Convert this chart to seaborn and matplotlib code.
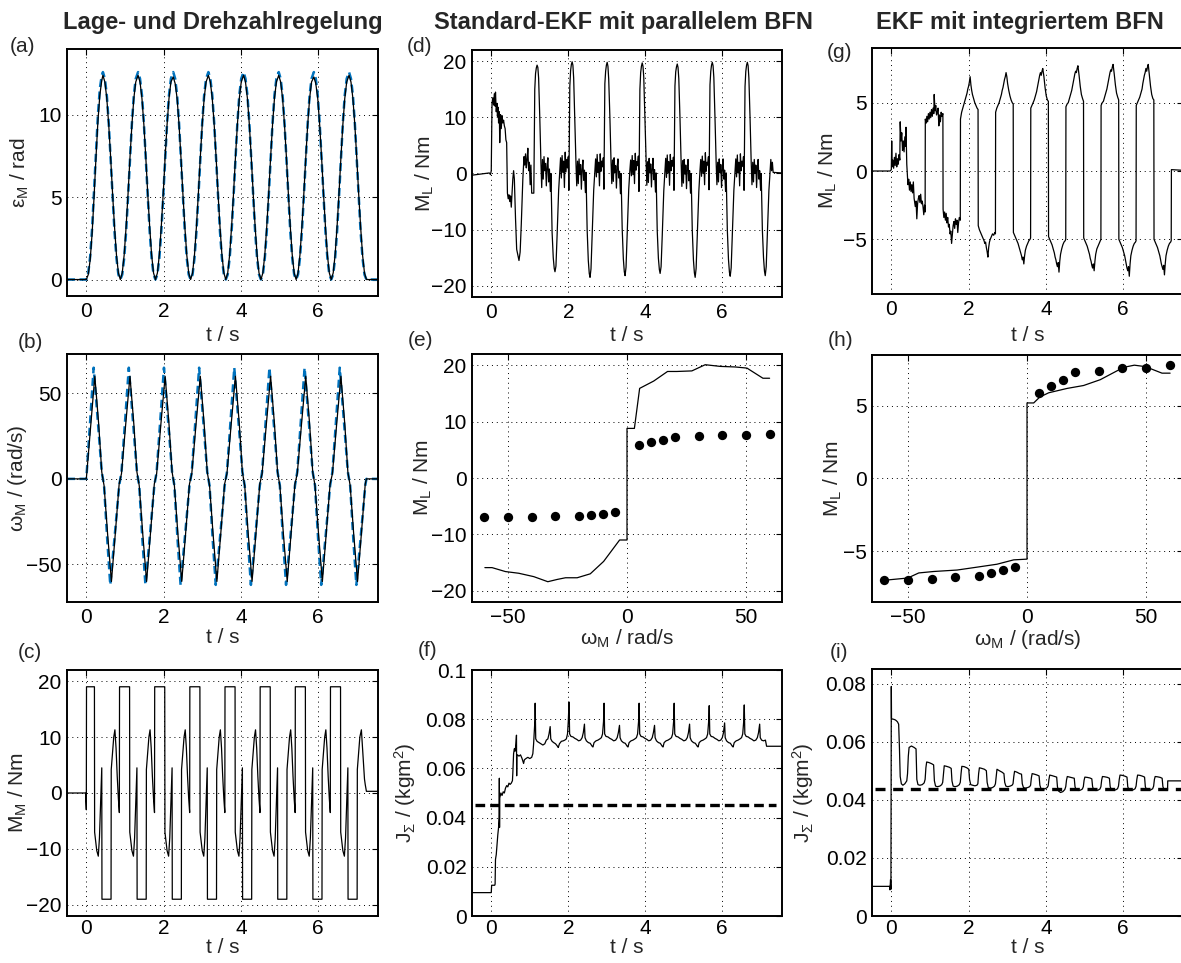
import matplotlib
matplotlib.use("Agg")
import matplotlib.pyplot as plt
import seaborn as sns

# ------------------------------------------------------------------
# data
# ------------------------------------------------------------------
col_titles = ["Lage- und Drehzahlregelung", "Standard-EKF mit parallelem BFN", "EKF mit integriertem BFN"]

# (a) position eps_M, measured (black) and reference (blue dashed)
eps_t = [-0.5, 0.0, 0.05, 0.10, 0.15, 0.20, 0.25, 0.30, 0.35, 0.40, 0.43,
         0.48, 0.53, 0.58, 0.63, 0.68, 0.73, 0.78, 0.83, 0.88, 0.93, 0.98, 1.03, 1.08, 1.13, 1.18, 1.23, 1.28, 1.34,
         1.39, 1.44, 1.49, 1.54, 1.59, 1.64, 1.69, 1.74, 1.79, 1.84, 1.89, 1.94, 1.99, 2.04, 2.09, 2.14, 2.19, 2.25,
         2.30, 2.35, 2.40, 2.45, 2.50, 2.55, 2.60, 2.65, 2.70, 2.75, 2.80, 2.85, 2.90, 2.95, 3.00, 3.05, 3.10, 3.16,
         3.21, 3.26, 3.31, 3.36, 3.41, 3.46, 3.51, 3.56, 3.61, 3.66, 3.71, 3.76, 3.81, 3.86, 3.91, 3.96, 4.01, 4.07,
         4.12, 4.17, 4.22, 4.27, 4.32, 4.37, 4.42, 4.47, 4.52, 4.57, 4.62, 4.67, 4.72, 4.77, 4.82, 4.87, 4.92, 4.98,
         5.03, 5.08, 5.13, 5.18, 5.23, 5.28, 5.33, 5.38, 5.43, 5.48, 5.53, 5.58, 5.63, 5.68, 5.73, 5.78, 5.83, 5.89,
         5.94, 5.99, 6.04, 6.09, 6.14, 6.19, 6.24, 6.29, 6.34, 6.39, 6.44, 6.49, 6.54, 6.59, 6.64, 6.69, 6.74, 6.80,
         6.85, 6.90, 6.95, 7.00, 7.05, 7.10, 7.15, 7.20, 7.25, 7.55]
eps_meas = [0.0, 0.0, 0.3, 1.2, 2.8, 5.0, 7.4, 9.6, 11.2, 12.1, 12.4,
            12.0, 11.0, 9.4, 7.4, 5.2, 3.2, 1.5, 0.4, 0.0, 0.4, 1.5, 3.2, 5.2, 7.4, 9.4, 11.0, 12.0, 12.4,
            12.0, 11.0, 9.4, 7.4, 5.2, 3.2, 1.5, 0.4, 0.0, 0.4, 1.5, 3.2, 5.2, 7.4, 9.4, 11.0, 12.0, 12.3,
            11.9, 11.0, 9.4, 7.4, 5.2, 3.2, 1.5, 0.4, 0.0, 0.4, 1.5, 3.2, 5.2, 7.4, 9.4, 11.0, 12.0, 12.4,
            12.0, 11.0, 9.4, 7.4, 5.2, 3.2, 1.5, 0.4, 0.0, 0.4, 1.5, 3.2, 5.2, 7.4, 9.4, 11.0, 12.0, 12.4,
            12.0, 11.0, 9.4, 7.4, 5.2, 3.2, 1.5, 0.4, 0.0, 0.4, 1.5, 3.2, 5.2, 7.4, 9.4, 11.0, 12.0, 12.4,
            12.0, 11.0, 9.4, 7.4, 5.2, 3.2, 1.5, 0.4, 0.0, 0.4, 1.5, 3.2, 5.2, 7.4, 9.4, 11.0, 12.0, 12.3,
            11.9, 11.0, 9.4, 7.4, 5.2, 3.2, 1.5, 0.4, 0.0, 0.4, 1.5, 3.2, 5.2, 7.4, 9.4, 11.0, 12.0, 12.4,
            12.0, 11.0, 9.4, 7.4, 5.2, 3.2, 1.5, 0.4, 0.0, 0.0]
eps_ref = [0.0, 0.0, 0.4, 1.4, 3.1, 5.4, 7.8, 10.0, 11.6, 12.4, 12.6,
           12.2, 11.2, 9.5, 7.3, 5.0, 2.9, 1.3, 0.3, 0.0, 0.3, 1.3, 2.9, 5.0, 7.3, 9.5, 11.2, 12.2, 12.6,
           12.2, 11.2, 9.5, 7.3, 5.0, 2.9, 1.3, 0.3, 0.0, 0.3, 1.3, 2.9, 5.0, 7.3, 9.5, 11.2, 12.2, 12.6,
           12.2, 11.2, 9.5, 7.3, 5.0, 2.9, 1.3, 0.3, 0.0, 0.3, 1.3, 2.9, 5.0, 7.3, 9.5, 11.2, 12.2, 12.6,
           12.2, 11.2, 9.5, 7.3, 5.0, 2.9, 1.3, 0.3, 0.0, 0.3, 1.3, 2.9, 5.0, 7.3, 9.5, 11.2, 12.2, 12.6,
           12.2, 11.2, 9.5, 7.3, 5.0, 2.9, 1.3, 0.3, 0.0, 0.3, 1.3, 2.9, 5.0, 7.3, 9.5, 11.2, 12.2, 12.6,
           12.2, 11.2, 9.5, 7.3, 5.0, 2.9, 1.3, 0.3, 0.0, 0.3, 1.3, 2.9, 5.0, 7.3, 9.5, 11.2, 12.2, 12.6,
           12.2, 11.2, 9.5, 7.3, 5.0, 2.9, 1.3, 0.3, 0.0, 0.3, 1.3, 2.9, 5.0, 7.3, 9.5, 11.2, 12.2, 12.6,
           12.2, 11.2, 9.5, 7.3, 5.0, 2.9, 1.3, 0.3, 0.0, 0.0]

# (b) speed omega_M, measured (black) and reference (blue dashed)
omega_t = [-0.5, 0.0, 0.11, 0.22, 0.32, 0.40, 0.43, 0.46, 0.55, 0.65, 0.75, 0.85,
           0.88, 0.91, 1.02, 1.13, 1.23, 1.31, 1.34, 1.37, 1.46, 1.56, 1.66, 1.76,
           1.79, 1.82, 1.93, 2.04, 2.14, 2.22, 2.25, 2.28, 2.37, 2.47, 2.57, 2.67,
           2.70, 2.73, 2.84, 2.95, 3.05, 3.13, 3.16, 3.19, 3.28, 3.38, 3.48, 3.58,
           3.61, 3.64, 3.75, 3.86, 3.96, 4.04, 4.07, 4.10, 4.19, 4.29, 4.39, 4.49,
           4.52, 4.55, 4.66, 4.77, 4.87, 4.95, 4.98, 5.01, 5.10, 5.20, 5.30, 5.40,
           5.43, 5.46, 5.57, 5.68, 5.78, 5.86, 5.89, 5.92, 6.01, 6.11, 6.21, 6.31,
           6.34, 6.37, 6.48, 6.59, 6.69, 6.77, 6.80, 6.83, 6.92, 7.02, 7.12, 7.22,
           7.25, 7.55]
omega_meas = [0, 0, 30, 60, 32, 4, 0, -4, -32, -60, -32, -3,
              0, 3, 32, 60, 32, 4, 0, -4, -32, -60, -32, -3,
              0, 3, 32, 60, 32, 4, 0, -4, -32, -60, -32, -3,
              0, 3, 32, 60, 32, 4, 0, -4, -32, -60, -32, -3,
              0, 3, 32, 60, 32, 4, 0, -4, -32, -60, -32, -3,
              0, 3, 32, 60, 32, 4, 0, -4, -32, -60, -32, -3,
              0, 3, 32, 60, 32, 4, 0, -4, -32, -60, -32, -3,
              0, 3, 32, 60, 32, 4, 0, -4, -32, -60, -32, -3,
              0, 0]
omega_ref_t = [-0.5, 0.0, 0.10, 0.19, 0.30, 0.40, 0.43, 0.46, 0.54, 0.62, 0.74, 0.85,
               0.88, 0.91, 1.01, 1.10, 1.21, 1.31, 1.34, 1.37, 1.45, 1.53, 1.65, 1.76,
               1.79, 1.82, 1.92, 2.01, 2.12, 2.22, 2.25, 2.28, 2.36, 2.44, 2.56, 2.67,
               2.70, 2.73, 2.83, 2.92, 3.03, 3.13, 3.16, 3.19, 3.27, 3.35, 3.47, 3.58,
               3.61, 3.64, 3.74, 3.83, 3.94, 4.04, 4.07, 4.10, 4.18, 4.26, 4.38, 4.49,
               4.52, 4.55, 4.65, 4.74, 4.85, 4.95, 4.98, 5.01, 5.09, 5.17, 5.29, 5.40,
               5.43, 5.46, 5.56, 5.65, 5.76, 5.86, 5.89, 5.92, 6.00, 6.08, 6.20, 6.31,
               6.34, 6.37, 6.47, 6.56, 6.67, 6.77, 6.80, 6.83, 6.91, 6.99, 7.11, 7.22,
               7.25, 7.55]
omega_ref = [0, 0, 34, 65, 33, 4, 0, -4, -35, -62, -32, -4,
             0, 4, 36, 65, 33, 4, 0, -4, -35, -62, -32, -4,
             0, 4, 36, 65, 33, 4, 0, -4, -35, -62, -32, -4,
             0, 4, 36, 65, 33, 4, 0, -4, -35, -62, -32, -4,
             0, 4, 36, 65, 33, 4, 0, -4, -35, -62, -32, -4,
             0, 4, 36, 65, 33, 4, 0, -4, -35, -62, -32, -4,
             0, 4, 36, 65, 33, 4, 0, -4, -35, -62, -32, -4,
             0, 4, 36, 65, 33, 4, 0, -4, -35, -62, -32, -4,
             0, 0]

# (c) motor torque M_M
mm_t = [-0.5, -0.02, 0.0,
        0.005, 0.21, 0.215, 0.24, 0.27, 0.31, 0.34, 0.38, 0.40, 0.405, 0.64, 0.645, 0.67, 0.71, 0.74, 0.77, 0.80, 0.83, 0.855,
        0.86, 1.12, 1.125, 1.15, 1.18, 1.22, 1.25, 1.29, 1.31, 1.315, 1.55, 1.555, 1.58, 1.62, 1.65, 1.68, 1.71, 1.74, 1.765,
        1.77, 2.03, 2.035, 2.06, 2.09, 2.13, 2.16, 2.20, 2.22, 2.225, 2.46, 2.465, 2.49, 2.53, 2.56, 2.59, 2.62, 2.65, 2.675,
        2.68, 2.94, 2.945, 2.97, 3.00, 3.04, 3.07, 3.11, 3.13, 3.135, 3.37, 3.375, 3.40, 3.44, 3.47, 3.50, 3.53, 3.56, 3.585,
        3.59, 3.85, 3.855, 3.88, 3.91, 3.95, 3.98, 4.02, 4.04, 4.045, 4.28, 4.285, 4.31, 4.35, 4.38, 4.41, 4.44, 4.47, 4.495,
        4.50, 4.76, 4.765, 4.79, 4.82, 4.86, 4.89, 4.93, 4.95, 4.955, 5.19, 5.195, 5.22, 5.26, 5.29, 5.32, 5.35, 5.38, 5.405,
        5.41, 5.67, 5.675, 5.70, 5.73, 5.77, 5.80, 5.84, 5.86, 5.865, 6.10, 6.105, 6.13, 6.17, 6.20, 6.23, 6.26, 6.29, 6.315,
        6.32, 6.58, 6.585, 6.61, 6.64, 6.68, 6.71, 6.75, 6.77, 6.775, 7.01, 7.015, 7.04, 7.08, 7.12, 7.16, 7.20, 7.22, 7.25, 7.55]
mm_val = [0.0, 0.0, -3.0,
          19, 19, -7, -8.5, -10.3, -11.3, -8, 0.5, 4.5, -19, -19, 4.2, 6.5, 10, 11.3, 8, 3, -1, -3.5,
          19, 19, -7, -8.5, -10.3, -11.3, -8, 0.5, 4.5, -19, -19, 4.2, 6.5, 10, 11.3, 8, 3, -1, -3.5,
          19, 19, -7, -8.5, -10.3, -11.3, -8, 0.5, 4.5, -19, -19, 4.2, 6.5, 10, 11.3, 8, 3, -1, -3.5,
          19, 19, -7, -8.5, -10.3, -11.3, -8, 0.5, 4.5, -19, -19, 4.2, 6.5, 10, 11.3, 8, 3, -1, -3.5,
          19, 19, -7, -8.5, -10.3, -11.3, -8, 0.5, 4.5, -19, -19, 4.2, 6.5, 10, 11.3, 8, 3, -1, -3.5,
          19, 19, -7, -8.5, -10.3, -11.3, -8, 0.5, 4.5, -19, -19, 4.2, 6.5, 10, 11.3, 8, 3, -1, -3.5,
          19, 19, -7, -8.5, -10.3, -11.3, -8, 0.5, 4.5, -19, -19, 4.2, 6.5, 10, 11.3, 8, 3, -1, -3.5,
          19, 19, -7, -8.5, -10.3, -11.3, -8, 0.5, 4.5, -19, -19, 4.2, 6.5, 10, 11.3, 7, 2.5, 1.5, 0.3, 0.3]

# (d) load torque, standard EKF with parallel BFN
ml_std_t = [-0.5, -0.05, -0.02, 0.0, 0.02, 0.04, 0.06, 0.08, 0.10, 0.11, 0.13, 0.15, 0.16, 0.18, 0.19, 0.21, 0.22, 0.24,
            0.26, 0.28, 0.30, 0.32, 0.34, 0.36, 0.38, 0.40, 0.42, 0.44, 0.46, 0.48, 0.50, 0.52, 0.54, 0.56, 0.58, 0.60,
            0.63, 0.66, 0.69, 0.72, 0.75, 0.78, 0.82, 0.85, 0.87, 0.89, 0.91, 0.93, 0.95, 0.97, 0.99, 1.01, 1.03, 1.05,
            1.105, 1.13, 1.15, 1.17, 1.19, 1.21, 1.23, 1.26, 1.29, 1.31, 1.33, 1.35, 1.37, 1.39, 1.41, 1.43, 1.45, 1.47, 1.49, 1.51,
            1.535, 1.55, 1.58, 1.61, 1.635, 1.655, 1.68, 1.71, 1.75, 1.78, 1.80, 1.82, 1.84, 1.86, 1.88, 1.90, 1.92, 1.94, 1.96, 1.98, 2.00,
            2.015, 2.04, 2.06, 2.08, 2.10, 2.12, 2.14, 2.17, 2.20, 2.22, 2.24, 2.26, 2.28, 2.30, 2.32, 2.34, 2.36, 2.38, 2.40, 2.42,
            2.445, 2.46, 2.49, 2.52, 2.545, 2.565, 2.59, 2.62, 2.66, 2.69, 2.71, 2.73, 2.75, 2.77, 2.79, 2.81, 2.83, 2.85, 2.87, 2.89, 2.91,
            2.925, 2.95, 2.97, 2.99, 3.01, 3.03, 3.05, 3.08, 3.11, 3.13, 3.15, 3.17, 3.19, 3.21, 3.23, 3.25, 3.27, 3.29, 3.31, 3.33,
            3.355, 3.37, 3.40, 3.43, 3.455, 3.475, 3.50, 3.53, 3.57, 3.60, 3.62, 3.64, 3.66, 3.68, 3.70, 3.72, 3.74, 3.76, 3.78, 3.80, 3.82,
            3.835, 3.86, 3.88, 3.90, 3.92, 3.94, 3.96, 3.99, 4.02, 4.04, 4.06, 4.08, 4.10, 4.12, 4.14, 4.16, 4.18, 4.20, 4.22, 4.24,
            4.265, 4.28, 4.31, 4.34, 4.365, 4.385, 4.41, 4.44, 4.48, 4.51, 4.53, 4.55, 4.57, 4.59, 4.61, 4.63, 4.65, 4.67, 4.69, 4.71, 4.73,
            4.745, 4.77, 4.79, 4.81, 4.83, 4.85, 4.87, 4.90, 4.93, 4.95, 4.97, 4.99, 5.01, 5.03, 5.05, 5.07, 5.09, 5.11, 5.13, 5.15,
            5.175, 5.19, 5.22, 5.25, 5.275, 5.295, 5.32, 5.35, 5.39, 5.42, 5.44, 5.46, 5.48, 5.50, 5.52, 5.54, 5.56, 5.58, 5.60, 5.62, 5.64,
            5.655, 5.68, 5.70, 5.72, 5.74, 5.76, 5.78, 5.81, 5.84, 5.86, 5.88, 5.90, 5.92, 5.94, 5.96, 5.98, 6.00, 6.02, 6.04, 6.06,
            6.085, 6.10, 6.13, 6.16, 6.185, 6.205, 6.23, 6.26, 6.30, 6.33, 6.35, 6.37, 6.39, 6.41, 6.43, 6.45, 6.47, 6.49, 6.51, 6.53, 6.55,
            6.565, 6.59, 6.61, 6.63, 6.65, 6.67, 6.69, 6.72, 6.75, 6.77, 6.79, 6.81, 6.83, 6.85, 6.87, 6.89, 6.91, 6.93, 6.95, 6.97,
            6.995, 7.01, 7.04, 7.07, 7.095, 7.115, 7.14, 7.17, 7.21, 7.24, 7.26, 7.28, 7.30, 7.32, 7.55]
ml_std = [-0.3, 0.1, -0.2, 0.5, 12.5, 13.5, 12.2, 14.2, 12.0, 14.5, 11.0, 12.5, 10.2, 11.8, 9.0, 11.0, 5.5, 10.5,
          8.0, 10.3, 9.0, 9.5, 8.5, 8.0, 6.0, 5.5, -3.5, -4.5, -3.8, -5.0, -4.0, -6.0, -3.5, -1.0, 0.5, -1.0,
          -8.0, -13.5, -14.5, -15.5, -14.0, -9.0, -1.0, 3.0, 1.5, 3.5, 1.0, 2.5, 4.5, 0.5, 2.0, -2.0, 1.5, -3.5,
          -3.5, 15, 17.8, 18.8, 19.3, 18.9, 17, 10, 2, -2.5, 2.5, -1, 3, 0.5, 1.8, -2.2, 1.2, 2.8, -1.5, 0.8,
          -3.2, 0, -10.5, -15, -16.9, -17.5, -16.5, -11, -3, 0.3, 2.8, -0.8, 3.2, 0.2, 2.2, -2.5, 3.8, 0.3, 2.5, 1, 3,
          -3, 15.5, 18.3, 19.4, 19.9, 19.3, 17, 9.5, 1.8, -2.2, 2.2, -1.8, 2.6, -0.2, 1.6, -2.8, 0.8, 2.4, -1.2, 0.6,
          -3.4, 0.2, -10, -15.5, -17.8, -18.5, -17, -11, -3, 0.5, 2.6, -0.6, 3.4, 0.2, 2, -2.2, 3.5, 0.4, 2.2, 1.2, 2.8,
          -2.8, 16, 18.2, 19.3, 19.8, 19.1, 16.8, 10.2, 2.2, -1.8, 2.4, -1.4, 2.8, 0.2, 1.4, -2.6, 1.1, 2.6, -0.8, 0.4,
          -3.6, 0, -9.8, -15.2, -17.5, -18.2, -16.7, -10.8, -2.8, 0.6, 2.4, -0.4, 3.2, -0.2, 2.3, -1.8, 3.6, 0.6, 2.1, 1.4, 3.1,
          -3.2, 15, 18, 19.1, 19.7, 19.1, 17.2, 9.8, 1.9, -2.1, 2.1, -1.6, 2.7, 0.1, 1.7, -2.4, 0.9, 2.7, -1.1, 0.7,
          -3.3, 0.1, -10.2, -15.1, -17.1, -17.8, -16.6, -11.1, -3.1, 0.4, 2.7, -0.7, 3.3, 0.1, 2.1, -2.1, 3.4, 0.5, 2.3, 1.3, 2.9,
          -3.0, 15.6, 18.1, 19.0, 19.5, 18.9, 16.9, 10.1, 2.1, -2.3, 2.3, -1.7, 2.5, -0.1, 1.5, -2.7, 1.0, 2.5, -1.3, 0.5,
          -3.5, 0.0, -10.1, -15.4, -17.7, -18.5, -16.9, -11.2, -3.2, 0.5, 2.5, -0.5, 3.1, 0.0, 2.2, -2.0, 3.7, 0.4, 2.0, 1.5, 3.0,
          -2.9, 15.8, 18.2, 19.3, 19.8, 19.2, 17.1, 9.9, 2.0, -2.0, 2.0, -1.5, 2.6, 0.2, 1.6, -2.5, 1.0, 2.6, -1.0, 0.6,
          -3.2, 0.1, -10.0, -15.3, -17.6, -18.3, -16.8, -11.0, -3.0, 0.5, 2.6, -0.6, 3.3, 0.1, 2.0, -2.2, 3.5, 0.5, 2.2, 1.3, 3.0,
          -3, 15.5, 18.2, 19.3, 19.8, 19.2, 17, 10, 2, -2, 2, -1.5, 2.5, 0, 1.5, -2.5, 1, 2.5, -1, 0.5,
          -3, 0, -10, -15, -17.4, -18.2, -16.6, -11, -3, 0.5, 2.5, 0.5, 2.0, 0.2, 0.1]

# (e)/(h) friction characteristic: reference points and estimated curves
omega_pts = [-60, -50, -40, -30, -20, -15, -10, -5, 5, 10, 15, 20, 30, 40, 50, 60]
ml_pts = [-7.0, -7.0, -6.9, -6.8, -6.7, -6.5, -6.3, -6.1, 5.9, 6.4, 6.8, 7.3, 7.4, 7.6, 7.6, 7.8]
fric_std_w = [-59.6, -56.6, -51.0, -45.4, -39.1, -33.2, -29.3, -25.8, -20.9, -15.4, -9.8, -3.1, 0, 0,
              3.1, 5.3, 11.2, 17.0, 20.9, 27.2, 32.8, 39.1, 45.4, 50.3, 57.0, 59.8]
fric_std = [-15.9, -15.9, -16.6, -16.9, -17.5, -18.4, -18.0, -17.7, -17.7, -17.0, -14.8, -11.0, -11.0, 8.8,
            8.8, 15.9, 17.2, 18.9, 18.9, 19.0, 20.1, 19.8, 19.7, 19.5, 17.7, 17.7]
fric_int_w = [-59.6, -50.0, -45.4, -39.1, -29.3, -20.9, -12.6, -5.6, 0, 0, 2.8, 5.3, 9.1, 16.8, 23.7, 30.7,
              40.5, 45.0, 49.6, 56.6, 60.0]
fric_int = [-7.0, -6.85, -6.5, -6.4, -6.3, -6.1, -5.9, -5.6, -5.55, 5.2, 5.2, 5.6, 5.9, 6.2, 6.4, 6.8,
            7.65, 7.8, 7.7, 7.25, 7.25]

# (f) inertia estimate, standard EKF
j_std_t = [-0.5, -0.03, 0.0, 0.01, 0.09, 0.10, 0.11, 0.13, 0.15, 0.17, 0.19, 0.205, 0.21, 0.215, 0.22, 0.25,
           0.28, 0.31, 0.34, 0.37, 0.40, 0.43, 0.46, 0.49, 0.52, 0.55, 0.56, 0.58, 0.60, 0.62, 0.64, 0.655,
           0.66, 0.665, 0.68, 0.72, 0.76, 0.80, 0.84, 0.86, 0.90, 0.95, 1.00, 1.05, 1.08, 1.10, 1.12, 1.135,
           1.14, 1.155, 1.19, 1.24, 1.29, 1.34, 1.39, 1.43, 1.47, 1.50, 1.53, 1.545, 1.58, 1.62, 1.67,
           1.72, 1.74, 1.77, 1.82, 1.87, 1.91, 1.95, 1.98, 2.00,
           2.02, 2.035, 2.07, 2.12, 2.17, 2.22, 2.27, 2.32, 2.36, 2.39, 2.42, 2.435, 2.47, 2.52, 2.57,
           2.62, 2.64, 2.67, 2.72, 2.77, 2.82, 2.86, 2.89, 2.915,
           2.93, 2.945, 2.98, 3.03, 3.08, 3.13, 3.18, 3.23, 3.27, 3.30, 3.33, 3.345, 3.38, 3.43, 3.48,
           3.53, 3.55, 3.58, 3.63, 3.68, 3.73, 3.77, 3.80, 3.825,
           3.84, 3.855, 3.89, 3.94, 3.99, 4.04, 4.09, 4.14, 4.18, 4.21, 4.24, 4.255, 4.29, 4.34, 4.39,
           4.44, 4.46, 4.49, 4.54, 4.59, 4.64, 4.68, 4.71, 4.735,
           4.75, 4.765, 4.80, 4.85, 4.90, 4.95, 5.00, 5.05, 5.09, 5.12, 5.15, 5.165, 5.20, 5.25, 5.30,
           5.35, 5.37, 5.40, 5.45, 5.50, 5.55, 5.59, 5.62, 5.645,
           5.66, 5.675, 5.71, 5.76, 5.81, 5.86, 5.91, 5.96, 6.00, 6.03, 6.06, 6.075, 6.11, 6.16, 6.21,
           6.26, 6.28, 6.31, 6.36, 6.41, 6.46, 6.50, 6.53, 6.555,
           6.57, 6.585, 6.62, 6.67, 6.72, 6.77, 6.82, 6.87, 6.91, 6.94, 6.97, 6.985, 7.02, 7.07, 7.12, 7.15, 7.55]
j_std = [0.0095, 0.0095, 0.0095, 0.0125, 0.0125, 0.013, 0.023, 0.025, 0.029, 0.033, 0.036, 0.040, 0.056, 0.036, 0.048, 0.050,
         0.049, 0.0505, 0.050, 0.052, 0.053, 0.0525, 0.054, 0.0535, 0.054, 0.055, 0.058, 0.066, 0.068, 0.067, 0.070, 0.0735,
         0.057, 0.065, 0.0655, 0.065, 0.0655, 0.064, 0.062, 0.0635, 0.064, 0.0645, 0.064, 0.0645, 0.066, 0.070, 0.076, 0.080,
         0.0865, 0.072, 0.071, 0.0705, 0.070, 0.0695, 0.070, 0.0715, 0.072, 0.074, 0.077, 0.072, 0.071, 0.0705, 0.070,
         0.069, 0.0685, 0.070, 0.071, 0.0712, 0.0715, 0.072, 0.074, 0.079,
         0.087, 0.074, 0.073, 0.0728, 0.0722, 0.0718, 0.0712, 0.0715, 0.0725, 0.0745, 0.078, 0.0725, 0.0712, 0.0705, 0.0702,
         0.069, 0.0687, 0.0705, 0.0712, 0.0715, 0.072, 0.0725, 0.074, 0.079,
         0.0865, 0.074, 0.073, 0.0728, 0.0722, 0.0718, 0.0712, 0.0715, 0.0725, 0.0745, 0.0775, 0.0725, 0.0712, 0.0705, 0.0702,
         0.069, 0.0687, 0.0705, 0.0712, 0.0715, 0.072, 0.0725, 0.074, 0.079,
         0.0865, 0.074, 0.073, 0.0728, 0.0722, 0.0718, 0.0712, 0.0715, 0.0725, 0.0745, 0.0775, 0.0725, 0.0712, 0.0705, 0.0702,
         0.069, 0.0687, 0.0705, 0.0712, 0.0715, 0.072, 0.0725, 0.074, 0.079,
         0.0865, 0.074, 0.073, 0.0728, 0.0722, 0.0718, 0.0712, 0.0715, 0.0725, 0.0745, 0.078, 0.0725, 0.0712, 0.0705, 0.0702,
         0.069, 0.0687, 0.0705, 0.0712, 0.0715, 0.072, 0.0725, 0.074, 0.079,
         0.0855, 0.074, 0.073, 0.0728, 0.0722, 0.0718, 0.0712, 0.0715, 0.0725, 0.0745, 0.0785, 0.0725, 0.0712, 0.0705, 0.0702,
         0.069, 0.0687, 0.0705, 0.0712, 0.0715, 0.072, 0.0725, 0.074, 0.079,
         0.0858, 0.074, 0.073, 0.0728, 0.0722, 0.0718, 0.0712, 0.0715, 0.0725, 0.0745, 0.078, 0.0725, 0.0715, 0.0712, 0.0715, 0.069, 0.069]
j_nom_std_t = [-0.42, 7.40]
j_nom_std = [0.0453, 0.0453]

# (g) load torque, EKF with integrated BFN
ml_int_t = [-0.5, -0.03, 0.0, 0.01, 0.02, 0.04, 0.06, 0.08, 0.10, 0.12, 0.14, 0.16, 0.18, 0.20, 0.22, 0.23,
            0.25, 0.27, 0.29, 0.31, 0.33, 0.35, 0.37, 0.38, 0.40, 0.43, 0.45, 0.47, 0.49, 0.51, 0.53, 0.55,
            0.57, 0.59, 0.62, 0.64, 0.66, 0.68, 0.70, 0.72, 0.74, 0.76, 0.78, 0.80, 0.82, 0.84, 0.86, 0.875,
            0.88, 0.90, 0.92, 0.94, 0.96, 0.98, 1.00, 1.02, 1.04, 1.06, 1.08, 1.10, 1.11, 1.13, 1.15, 1.17,
            1.19, 1.21, 1.23, 1.25, 1.27, 1.29, 1.31, 1.335,
            1.34, 1.36, 1.38, 1.40, 1.42, 1.44, 1.46, 1.48, 1.50, 1.52, 1.54, 1.56, 1.58, 1.60, 1.62, 1.64,
            1.66, 1.68, 1.70, 1.72, 1.74, 1.76, 1.785,
            1.79, 1.82, 1.85, 1.88, 1.91, 1.94, 1.96, 1.98, 2.00, 2.02, 2.04, 2.06, 2.08, 2.10, 2.13, 2.16, 2.19, 2.22, 2.245,
            2.25, 2.28, 2.31, 2.34, 2.37, 2.40, 2.42, 2.44, 2.46, 2.48, 2.50, 2.52, 2.54, 2.56, 2.59, 2.62, 2.65, 2.68, 2.695,
            2.70, 2.73, 2.76, 2.79, 2.82, 2.85, 2.87, 2.89, 2.91, 2.93, 2.95, 2.97, 2.99, 3.01, 3.04, 3.07, 3.10, 3.13, 3.155,
            3.16, 3.19, 3.22, 3.25, 3.28, 3.31, 3.33, 3.35, 3.37, 3.39, 3.41, 3.43, 3.45, 3.47, 3.50, 3.53, 3.56, 3.59, 3.605,
            3.61, 3.64, 3.67, 3.70, 3.73, 3.76, 3.78, 3.80, 3.82, 3.84, 3.86, 3.88, 3.90, 3.92, 3.95, 3.98, 4.01, 4.04, 4.065,
            4.07, 4.10, 4.13, 4.16, 4.19, 4.22, 4.24, 4.26, 4.28, 4.30, 4.32, 4.34, 4.36, 4.38, 4.41, 4.44, 4.47, 4.50, 4.515,
            4.52, 4.55, 4.58, 4.61, 4.64, 4.67, 4.69, 4.71, 4.73, 4.75, 4.77, 4.79, 4.81, 4.83, 4.86, 4.89, 4.92, 4.95, 4.975,
            4.98, 5.01, 5.04, 5.07, 5.10, 5.13, 5.15, 5.17, 5.19, 5.21, 5.23, 5.25, 5.27, 5.29, 5.32, 5.35, 5.38, 5.41, 5.425,
            5.43, 5.46, 5.49, 5.52, 5.55, 5.58, 5.60, 5.62, 5.64, 5.66, 5.68, 5.70, 5.72, 5.74, 5.77, 5.80, 5.83, 5.86, 5.885,
            5.89, 5.92, 5.95, 5.98, 6.01, 6.04, 6.06, 6.08, 6.10, 6.12, 6.14, 6.16, 6.18, 6.20, 6.23, 6.26, 6.29, 6.32, 6.335,
            6.34, 6.37, 6.40, 6.43, 6.46, 6.49, 6.51, 6.53, 6.55, 6.57, 6.59, 6.61, 6.63, 6.65, 6.68, 6.71, 6.74, 6.77, 6.795,
            6.80, 6.83, 6.86, 6.89, 6.92, 6.95, 6.97, 6.99, 7.01, 7.03, 7.05, 7.07, 7.09, 7.11, 7.14, 7.17, 7.20, 7.23, 7.245,
            7.25, 7.55]
ml_int = [0, 0, 0.1, 2.2, 0.3, 0.8, 0.2, 1.0, 0.4, 1.3, 0.3, 0.9, 0.5, 1.2, 0.8, 3.6,
          2.2, 2.8, 1.5, 2.2, 1.4, 2.5, 1.8, 3.2, 0.5, -1.0, -0.6, -1.4, -0.8, -1.5, -1.0, -1.6,
          -0.8, -2.0, -2.6, -2.2, -3.5, -2.4, -2.0, -1.8, -2.3, -1.7, -2.4, -2.2, -2.6, -3.2, -2.5, -3.0,
          3.8, 3.5, 4.0, 3.6, 4.2, 3.8, 4.3, 3.9, 4.5, 4.0, 4.6, 4.2, 5.6, 4.4, 4.8, 4.1,
          4.3, 4.6, 3.3, 4.1, 3.6, 4.3, 4.0, 4.2,
          -2.8, -3.4, -3.0, -3.6, -3.1, -3.8, -3.4, -4.1, -3.9, -4.6, -4.4, -5.3, -4.6, -4.0, -3.7, -4.2,
          -3.5, -3.9, -3.6, -4.5, -3.8, -3.4, -3.6,
          3.8, 4.3, 4.6, 4.9, 5.2, 5.5, 5.7, 6.0, 6.2, 6.5, 6.9, 6.3, 5.9, 5.6, 5.3, 5.0, 4.8, 4.6, 4.5,
          -4.0, -4.3, -4.5, -4.7, -4.9, -5.1, -5.3, -5.2, -5.6, -5.9, -6.3, -5.6, -5.2, -5.0, -4.8, -4.6, -4.7, -4.5, -4.6,
          4.3, 4.6, 4.8, 5.0, 5.3, 5.6, 5.9, 6.1, 6.4, 6.7, 6.9, 7.2, 6.9, 6.4, 5.9, 5.5, 5.2, 5.0, 4.9,
          -4.5, -4.7, -4.9, -5.1, -5.3, -5.6, -5.8, -6.0, -6.2, -6.5, -6.3, -6.8, -6.2, -5.8, -5.5, -5.3, -5.1, -5.0, -4.9,
          4.6, 4.8, 5.0, 5.2, 5.5, 5.8, 6.1, 6.4, 6.7, 7.0, 7.2, 7.0, 7.3, 7.5, 6.9, 6.1, 5.5, 5.2, 5.1,
          -4.8, -5.0, -5.2, -5.4, -5.7, -6.0, -6.3, -6.5, -6.8, -7.0, -6.7, -7.4, -6.6, -6.1, -5.7, -5.4, -5.2, -5.1, -5.0,
          4.7, 4.9, 5.0, 5.3, 5.6, 5.9, 6.2, 6.5, 6.8, 7.1, 7.3, 7.2, 7.5, 7.7, 7.0, 6.2, 5.6, 5.3, 5.1,
          -4.9, -5.1, -5.3, -5.5, -5.8, -6.1, -6.4, -6.6, -6.9, -7.1, -6.8, -7.3, -6.6, -6.1, -5.7, -5.5, -5.3, -5.1, -5.0,
          4.8, 5.0, 5.1, 5.4, 5.7, 6.0, 6.3, 6.6, 6.9, 7.2, 7.4, 7.3, 7.6, 7.8, 7.1, 6.3, 5.7, 5.4, 5.2,
          -5.0, -5.2, -5.4, -5.6, -5.9, -6.2, -6.5, -6.8, -7.1, -7.3, -7.0, -7.7, -6.8, -6.2, -5.8, -5.5, -5.3, -5.2, -5.1,
          4.8, 5.0, 5.2, 5.4, 5.7, 6.0, 6.4, 6.7, 7.0, 7.2, 7.5, 7.3, 7.6, 7.8, 7.0, 6.2, 5.6, 5.3, 5.2,
          -5.0, -5.2, -5.4, -5.6, -5.9, -6.2, -6.5, -6.8, -7.0, -7.2, -6.9, -7.6, -6.8, -6.2, -5.8, -5.5, -5.3, -5.2, -5.1,
          0.1, 0.05]

# (i) inertia estimate, EKF with integrated BFN
j_int_t = [-0.5, -0.04, -0.035, -0.02, -0.01, 0.0, 0.005, 0.02, 0.06, 0.10, 0.13, 0.16, 0.19, 0.21, 0.23, 0.26, 0.30, 0.35, 0.40,
           0.42, 0.44, 0.46, 0.52, 0.59, 0.64, 0.66, 0.69, 0.74, 0.80, 0.85,
           0.875, 0.895, 0.915, 0.975, 1.045, 1.095, 1.115, 1.145, 1.195, 1.255, 1.305,
           1.33, 1.35, 1.37, 1.43, 1.50, 1.55, 1.57, 1.60, 1.65, 1.71, 1.76,
           1.785, 1.805, 1.825, 1.885, 1.955, 2.005, 2.025, 2.055, 2.105, 2.165, 2.215,
           2.24, 2.26, 2.28, 2.34, 2.41, 2.46, 2.48, 2.51, 2.56, 2.62, 2.67,
           2.695, 2.715, 2.735, 2.795, 2.865, 2.915, 2.935, 2.965, 3.015, 3.075, 3.125,
           3.15, 3.17, 3.19, 3.25, 3.32, 3.37, 3.39, 3.42, 3.47, 3.53, 3.58,
           3.605, 3.625, 3.645, 3.705, 3.775, 3.825, 3.845, 3.875, 3.925, 3.985, 4.035,
           4.06, 4.08, 4.10, 4.16, 4.23, 4.28, 4.30, 4.33, 4.38, 4.44, 4.49,
           4.515, 4.535, 4.555, 4.615, 4.685, 4.735, 4.755, 4.785, 4.835, 4.895, 4.945,
           4.97, 4.99, 5.01, 5.07, 5.14, 5.19, 5.21, 5.24, 5.29, 5.35, 5.40,
           5.425, 5.445, 5.465, 5.525, 5.595, 5.645, 5.665, 5.695, 5.745, 5.805, 5.855,
           5.88, 5.90, 5.92, 5.98, 6.05, 6.10, 6.12, 6.15, 6.20, 6.26, 6.31,
           6.335, 6.355, 6.375, 6.435, 6.505, 6.555, 6.575, 6.605, 6.655, 6.715, 6.765,
           6.79, 6.81, 6.83, 6.89, 6.96, 7.01, 7.03, 7.06, 7.11, 7.15, 7.155, 7.55]
j_int = [0.0102, 0.0102, 0.009, 0.0125, 0.0092, 0.079, 0.068, 0.0678, 0.0677, 0.0675, 0.0672, 0.0668, 0.066, 0.058, 0.048, 0.0455, 0.045, 0.0455, 0.0465,
         0.049, 0.055, 0.058, 0.0585, 0.058, 0.0575, 0.047, 0.0452, 0.045, 0.0452, 0.0458,
         0.047, 0.051, 0.053, 0.0528, 0.0524, 0.052, 0.0465, 0.0447, 0.0445, 0.0447, 0.0452,
         0.046, 0.049, 0.0517, 0.0515, 0.0512, 0.0508, 0.0465, 0.0447, 0.0445, 0.0447, 0.0452,
         0.046, 0.049, 0.0515, 0.0514, 0.051, 0.0505, 0.047, 0.0452, 0.045, 0.0448, 0.045,
         0.0455, 0.049, 0.051, 0.0508, 0.0505, 0.050, 0.046, 0.0442, 0.044, 0.0442, 0.0447,
         0.0455, 0.048, 0.0505, 0.050, 0.0495, 0.049, 0.046, 0.0447, 0.0445, 0.0447, 0.045,
         0.0455, 0.048, 0.0498, 0.0495, 0.049, 0.0488, 0.0455, 0.0442, 0.044, 0.0442, 0.0445,
         0.045, 0.0475, 0.049, 0.0488, 0.0485, 0.0482, 0.045, 0.0438, 0.0437, 0.0438, 0.0442,
         0.0448, 0.047, 0.0485, 0.0483, 0.048, 0.0478, 0.0445, 0.043, 0.0425, 0.0428, 0.0435,
         0.0445, 0.0468, 0.048, 0.0478, 0.0476, 0.0474, 0.0445, 0.0434, 0.0432, 0.0433, 0.0437,
         0.0445, 0.0467, 0.0478, 0.0477, 0.0475, 0.0472, 0.0445, 0.0434, 0.0432, 0.0433, 0.0437,
         0.0445, 0.0468, 0.048, 0.0479, 0.0477, 0.0474, 0.0445, 0.0435, 0.0433, 0.0434, 0.0438,
         0.0447, 0.047, 0.0485, 0.0484, 0.0481, 0.0478, 0.0445, 0.0435, 0.0433, 0.0434, 0.0438,
         0.0447, 0.047, 0.0485, 0.0484, 0.0481, 0.0478, 0.0445, 0.0435, 0.0433, 0.0434, 0.0438,
         0.0447, 0.047, 0.048, 0.0479, 0.0477, 0.0474, 0.0445, 0.0435, 0.0432, 0.0433, 0.0465, 0.0465]
j_nom_int_t = [-0.42, 7.60]
j_nom_int = [0.0436, 0.0436]

# ------------------------------------------------------------------
# style
# ------------------------------------------------------------------
sns.set_style("white")
plt.rcParams["font.family"] = ["Liberation Sans", "DejaVu Sans"]
plt.rcParams["mathtext.fontset"] = "custom"
plt.rcParams["mathtext.rm"] = "Liberation Sans"
plt.rcParams["mathtext.it"] = "Liberation Sans:italic"
plt.rcParams["mathtext.bf"] = "Liberation Sans:bold"

BLUE = "#0072BD"
W, H = 1181, 963
fig = plt.figure(figsize=(W / 100, H / 100), dpi=100)


def make_ax(box):
    l, t, r, b = box
    return fig.add_axes([l / W, 1 - b / H, (r - l) / W, (b - t) / H])


def finish(ax, box, xlim, ylim, xticks, yticks, xlabel, ylabel, ylab_px, xlab_px,
           yticklabels=None, xpad=4):
    l, t, r, b = box
    ax.set_xlim(*xlim)
    ax.set_ylim(*ylim)
    ax.set_xticks(xticks)
    if yticklabels is None:
        ax.set_yticks(yticks)
    else:
        ax.set_yticks(yticks, yticklabels)
    ax.grid(True, color="k", linestyle=(0, (1, 4)), linewidth=0.7)
    for sp in ax.spines.values():
        sp.set_visible(True)
        sp.set_linewidth(1.4)
        sp.set_color("k")
    ax.tick_params(direction="in", length=4, width=0.8, labelsize=15, pad=4,
                   top=True, right=True, colors="k")
    ax.tick_params(axis="x", pad=xpad)
    ax.set_xlabel(xlabel, fontsize=15)
    ax.set_ylabel(ylabel, fontsize=15)
    ax.yaxis.set_label_coords((ylab_px - l) / (r - l), 0.5)
    ax.xaxis.set_label_coords(0.5, -(xlab_px - b) / (b - t))


def trace(ax, x, y, **kw):
    sns.lineplot(x=x, y=y, ax=ax, sort=False, estimator=None, legend=False, **kw)


TLIM = (-0.5, 7.55)
TTICKS = [0, 2, 4, 6]
lbl_t = "t / s"
lbl_ml = r"M$_\mathregular{L}$ / Nm"
lbl_j = r"J$_\mathregular{Σ}$ / (kgm$^\mathregular{2}$)"

boxes = {
    "a": (67, 49, 378, 296), "b": (67, 354, 378, 602), "c": (67, 670, 378, 916),
    "d": (472, 50, 782, 297), "e": (472, 354, 782, 602), "f": (472, 670, 782, 916),
    "g": (872, 48, 1183, 294), "h": (872, 355, 1183, 602), "i": (872, 669, 1183, 916),
}
axs = {k: make_ax(v) for k, v in boxes.items()}

# (a)
ax = axs["a"]
trace(ax, eps_t, eps_ref, color=BLUE, lw=1.8, linestyle=(0, (3.2, 1.8)))
trace(ax, eps_t, eps_meas, color="k", lw=0.9)
finish(ax, boxes["a"], TLIM, (-1, 14), TTICKS, [0, 5, 10], lbl_t,
       r"ε$_\mathregular{M}$ / rad", 31, 326)

# (b)
ax = axs["b"]
trace(ax, omega_ref_t, omega_ref, color=BLUE, lw=1.8, linestyle=(0, (3.2, 1.8)))
trace(ax, omega_t, omega_meas, color="k", lw=0.9)
finish(ax, boxes["b"], TLIM, (-72, 73), TTICKS, [-50, 0, 50], lbl_t,
       r"ω$_\mathregular{M}$ / (rad/s)", 29, 628)

# (c)
ax = axs["c"]
trace(ax, mm_t, mm_val, color="k", lw=0.9)
finish(ax, boxes["c"], TLIM, (-22, 22), TTICKS, [-20, -10, 0, 10, 20], lbl_t,
       r"M$_\mathregular{M}$ / Nm", 29, 938, xpad=2.5)

# (d)
ax = axs["d"]
trace(ax, ml_std_t, ml_std, color="k", lw=0.9)
finish(ax, boxes["d"], TLIM, (-22, 22), TTICKS, [-20, -10, 0, 10, 20], lbl_t, lbl_ml, 436, 326)

# (e)
ax = axs["e"]
trace(ax, fric_std_w, fric_std, color="k", lw=0.9)
sns.scatterplot(x=omega_pts, y=ml_pts, ax=ax, color="k", s=45, linewidth=0, zorder=3, legend=False)
finish(ax, boxes["e"], (-65, 65), (-22, 22), [-50, 0, 50], [-20, -10, 0, 10, 20],
       r"ω$_\mathregular{M}$ / rad/s", lbl_ml, 434, 628)

# (f)
ax = axs["f"]
trace(ax, j_std_t, j_std, color="k", lw=0.9)
trace(ax, j_nom_std_t, j_nom_std, color="k", lw=2.4, linestyle=(0, (2.9, 1.5)))
finish(ax, boxes["f"], TLIM, (0, 0.1), TTICKS, [0, 0.02, 0.04, 0.06, 0.08, 0.1], lbl_t, lbl_j, 418, 938,
       yticklabels=["0", "0.02", "0.04", "0.06", "0.08", "0.1"], xpad=2.5)

# (g)
ax = axs["g"]
trace(ax, ml_int_t, ml_int, color="k", lw=0.9)
finish(ax, boxes["g"], TLIM, (-9, 9), TTICKS, [-5, 0, 5], lbl_t, lbl_ml, 839, 326)

# (h)
ax = axs["h"]
trace(ax, fric_int_w, fric_int, color="k", lw=0.9)
sns.scatterplot(x=omega_pts, y=ml_pts, ax=ax, color="k", s=45, linewidth=0, zorder=3, legend=False)
finish(ax, boxes["h"], (-65, 65.4), (-8.5, 8.5), [-50, 0, 50], [-5, 0, 5],
       r"ω$_\mathregular{M}$ / (rad/s)", lbl_ml, 844, 628)

# (i)
ax = axs["i"]
trace(ax, j_int_t, j_int, color="k", lw=0.9)
trace(ax, j_nom_int_t, j_nom_int, color="k", lw=2.4, linestyle=(0, (3.0, 2.3)))
finish(ax, boxes["i"], TLIM, (0, 0.085), TTICKS, [0, 0.02, 0.04, 0.06, 0.08], lbl_t, lbl_j, 816, 938,
       yticklabels=["0", "0.02", "0.04", "0.06", "0.08"], xpad=2.5)

# column titles and panel letters
for title, xc in zip(col_titles, [223, 624, 1020]):
    fig.text(xc / W, 1 - 22 / H, title, ha="center", va="center", fontsize=17, fontweight="bold")

letters = {"a": (10, 47), "b": (18, 342), "c": (18, 652),
           "d": (407, 46), "e": (408, 340), "f": (418, 651),
           "g": (827, 52), "h": (828, 340), "i": (830, 653)}
for k, (px, py) in letters.items():
    fig.text(px / W, 1 - py / H, f"({k})", ha="left", va="center", fontsize=15)

fig.savefig("out.png", dpi=100)
